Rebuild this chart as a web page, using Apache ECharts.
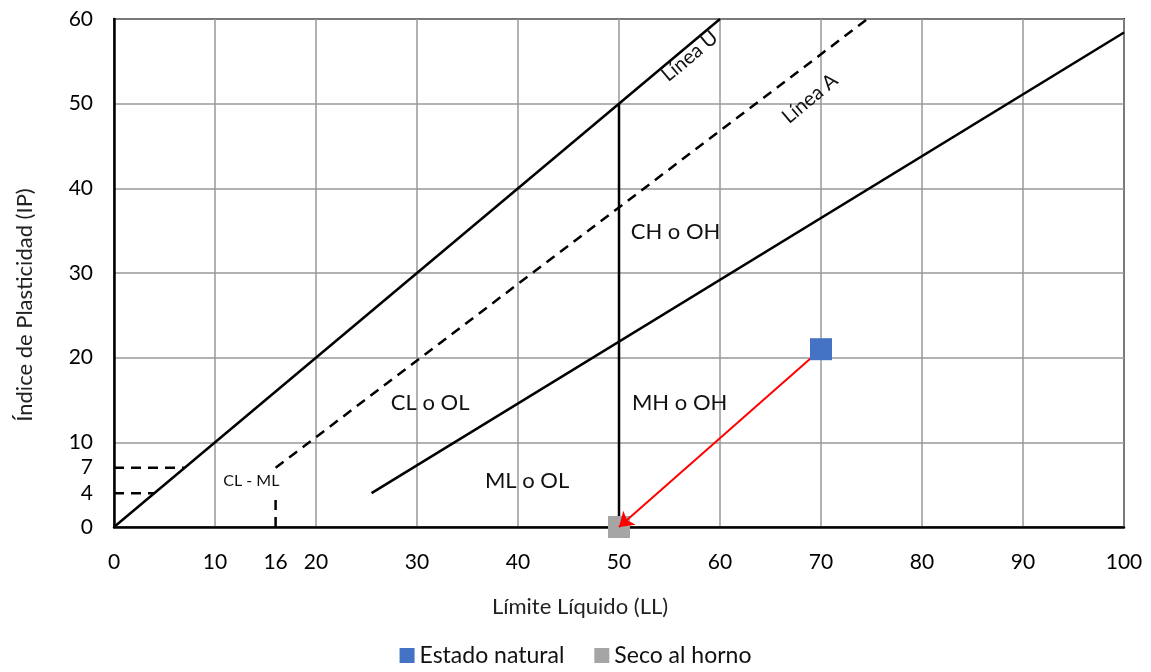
<!DOCTYPE html>
<html>
<head>
<meta charset="utf-8">
<script src="https://cdn.jsdelivr.net/npm/echarts@6/dist/echarts.min.js"></script>
<style>
  html, body { margin: 0; padding: 0; background: #fff; }
  #chart { width: 1151px; height: 672px; }
</style>
</head>
<body>
<div id="chart"></div>
<script>
// tick labels
const xTicks = [0, 10, 16, 20, 30, 40, 50, 60, 70, 80, 90, 100]
const yTicks = [0, 4, 7, 10, 20, 30, 40, 50, 60]

// chart lines [LL, IP]
const lineU = [[0, 0], [60, 60]]
const lineA = [[16, 7], [74.6, 60]]
const lineLow = [[25.5, 4], [100, 58.4]]
const line50 = [[50, 0], [50, 50]]
const dash7 = [[0, 7], [7, 7]]
const dash4 = [[0, 4], [4, 4]]
const dash16 = [[16, 0], [16, 4]]

// samples
const natural = [[70, 21]]
const seco = [[50, 0]]

// zone labels [LL, IP, text, rotate, size]
const zoneLabels = [
  [55.6, 34.8, 'CH o OH', 0, 22],
  [31.3, 14.6, 'CL o OL', 0, 22],
  [56, 14.6, 'MH o OH', 0, 22],
  [40.9, 5.4, 'ML o OL', 0, 22],
  [13.6, 5.4, 'CL - ML', 0, 16],
  [57, 55.6, 'Línea U', 40, 20],
  [68.9, 50.6, 'Línea A', 40, 20]
]

const font = 'Lato'
const chart = echarts.init(document.getElementById('chart'))

const seg = (data, dashed) => ({
  type: 'line',
  data: data,
  symbol: 'none',
  silent: true,
  z: 3,
  lineStyle: { color: '#000', width: 2.5, type: dashed ? [10, 7] : 'solid' }
})

chart.setOption({
  animation: false,
  textStyle: { fontFamily: font },
  grid: {
    left: 114, right: 27, top: 19, bottom: 145,
    show: true, borderColor: '#222', borderWidth: 2
  },
  legend: {
    data: ['Estado natural', 'Seco al horno'],
    bottom: 0,
    left: 'center',
    itemWidth: 15,
    itemHeight: 15,
    itemGap: 30,
    icon: 'rect',
    textStyle: { fontSize: 23, color: '#111', fontFamily: font }
  },
  xAxis: {
    type: 'value',
    min: 0, max: 100, interval: 10,
    name: 'Límite Líquido (LL)',
    nameLocation: 'middle',
    nameGap: 69,
    nameTextStyle: { fontSize: 22, color: '#222', padding: [0, 78, 0, 0] },
    axisLine: { show: true, lineStyle: { color: '#000', width: 2.5 } },
    axisTick: { show: false },
    axisLabel: { customValues: xTicks, fontSize: 21, color: '#000', margin: 25 },
    splitLine: { lineStyle: { color: '#999', width: 1.5 } }
  },
  yAxis: {
    type: 'value',
    min: 0, max: 60, interval: 10,
    name: 'Índice de Plasticidad (IP)',
    nameLocation: 'middle',
    nameGap: 78,
    nameTextStyle: { fontSize: 22, color: '#222', padding: [0, 64, 0, 0] },
    axisLine: { show: true, lineStyle: { color: '#000', width: 2.5 } },
    axisTick: { show: false },
    axisLabel: { customValues: yTicks, fontSize: 21, color: '#000', margin: 21 },
    splitLine: { lineStyle: { color: '#999', width: 1.5 } }
  },
  series: [
    seg(lineU, false),
    seg(lineA, true),
    seg(lineLow, false),
    seg(line50, false),
    seg(dash7, true),
    seg(dash4, true),
    seg(dash16, true),
    {
      type: 'scatter',
      silent: true,
      symbolSize: 0,
      z: 4,
      itemStyle: { opacity: 1 },
      data: zoneLabels.map(d => ({
        value: [d[0], d[1]],
        label: {
          show: true,
          position: 'inside',
          formatter: d[2],
          rotate: d[3],
          fontSize: d[4],
          color: '#111',
          fontFamily: font
        }
      }))
    },
    {
      name: 'Estado natural',
      type: 'scatter',
      symbol: 'rect',
      symbolSize: 22,
      itemStyle: { color: '#4472C4', opacity: 1 },
      data: natural,
      z: 5,
      markLine: {
        silent: true,
        symbol: ['none', 'arrow'],
        symbolSize: 14,
        label: { show: false },
        lineStyle: { color: '#FF0000', width: 2, type: 'solid', opacity: 1 },
        data: [[{ coord: natural[0] }, { coord: seco[0] }]]
      }
    },
    {
      name: 'Seco al horno',
      type: 'scatter',
      symbol: 'rect',
      symbolSize: 22,
      itemStyle: { color: '#A5A5A5', opacity: 1 },
      data: seco,
      z: 4
    }
  ]
})
</script>
</body>
</html>
